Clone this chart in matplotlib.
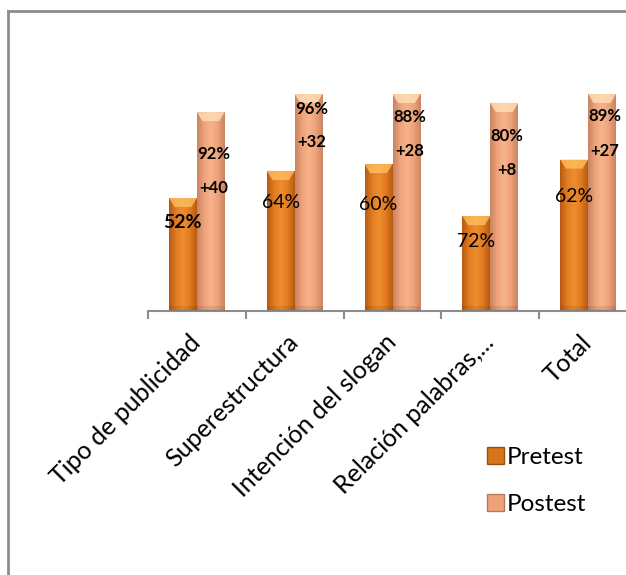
import numpy as np
import matplotlib
matplotlib.use("Agg")
from matplotlib import pyplot as plt
from matplotlib import patches as patches
from matplotlib.lines import Line2D
from matplotlib.colors import LinearSegmentedColormap
from matplotlib.transforms import ScaledTranslation

plt.rcParams['font.family'] = ['Lato', 'DejaVu Sans']

categories = ["Tipo de publicidad", "Superestructura", "Intención del slogan",
              "Relación palabras,...", "Total"]
pretest = [50, 62, 65, 42, 67]
postest = [88, 96, 96, 92, 96]
pretest_labels = ["52%", "64%", "60%", "72%", "62%"]
postest_labels = ["92%", "96%", "88%", "80%", "89%"]
gain_labels = ["+40", "+32", "+28", "+8", "+27"]

# label offsets in pixels below bar top
pre_dy = [-25, -32, -40, -25, -37]
post_dy = [-42, -15, -23, -33, -22]
gain_dy = [-76, -48, -57, -67, -57]

fig = plt.figure(figsize=(6.26, 5.75), dpi=100)
ax = fig.add_axes([148 / 626, 1 - 311 / 575, 489 / 626, 226 / 575])

x = np.arange(len(categories))
w = 0.285
pre_cmap = LinearSegmentedColormap.from_list(
    "pre", ["#b85a12", "#e27c20", "#ee8e30", "#e27c20", "#b85a12"])
post_cmap = LinearSegmentedColormap.from_list(
    "post", ["#c98561", "#eea27a", "#f6b48c", "#eea27a", "#c98561"])

grad = np.linspace(0, 1, 64).reshape(1, -1)


def shade(bars, cmap, bevel_color):
    for b in bars:
        x0, y0 = b.get_x(), b.get_y()
        bw, bh = b.get_width(), b.get_height()
        b.set_facecolor("none")
        im = ax.imshow(grad, cmap=cmap, aspect="auto",
                       extent=(x0, x0 + bw, y0, y0 + bh), zorder=2)
        im.set_clip_path(b)
        bev = 4.0
        ax.add_patch(patches.Polygon(
            [(x0, bh), (x0 + bw, bh), (x0 + bw * 0.8, bh - bev),
             (x0 + bw * 0.2, bh - bev)],
            closed=True, fc=bevel_color, ec="none", alpha=0.8, zorder=3))
        ax.add_patch(patches.Rectangle((x0, 0), bw, 2.0, fc="#000000",
                                       alpha=0.08, ec="none", zorder=3))


bars_pre = ax.bar(x - w / 2, pretest, w, ec="none", zorder=2)
bars_post = ax.bar(x + w / 2, postest, w, ec="none", zorder=2)
shade(bars_pre, pre_cmap, "#ffc060")
shade(bars_post, post_cmap, "#ffe0b8")

for i in range(len(categories)):
    ax.annotate(pretest_labels[i], (x[i] - w / 2, pretest[i]),
                xytext=(0, pre_dy[i]), textcoords="offset pixels",
                ha="center", va="center", fontsize=14,
                fontweight="bold" if i == 0 else "normal", zorder=5)
    ax.annotate(postest_labels[i], (x[i] + w / 2, postest[i]),
                xytext=(3, post_dy[i]), textcoords="offset pixels",
                ha="center", va="center", fontsize=12, fontweight="bold",
                zorder=5)
    ax.annotate(gain_labels[i], (x[i] + w / 2, postest[i]),
                xytext=(3, gain_dy[i]), textcoords="offset pixels",
                ha="center", va="center", fontsize=12, fontweight="bold",
                zorder=5)

ax.set_xlim(-0.5, len(categories) - 0.5)
ax.set_ylim(0, 100)
for s in ["top", "right", "left"]:
    ax.spines[s].set_visible(False)
ax.spines["bottom"].set_color("#8c8c8c")
ax.spines["bottom"].set_linewidth(1.5)
ax.set_yticks([])
ax.set_xticks(x)
ax.set_xticklabels(categories, rotation=45, ha="right", va="top",
                   rotation_mode="anchor", fontsize=18)
ax.tick_params(axis="x", which="major", length=0, pad=14)
ax.set_xticks(np.arange(-0.5, len(categories)), minor=True)
ax.tick_params(axis="x", which="minor", length=6, width=1.5, color="#8c8c8c")
shift = ScaledTranslation(-8 / 100, 0, fig.dpi_scale_trans)
for lbl in ax.get_xticklabels():
    lbl.set_transform(lbl.get_transform() + shift)

handles = [patches.Patch(fc="#d8741c", ec="#9a5010"),
           patches.Patch(fc="#eea27a", ec="#b8785a")]
fig.legend(handles, ["Pretest", "Postest"], loc="upper left",
           bbox_to_anchor=(487 / 626, 1 - 447 / 575), frameon=False,
           fontsize=17.5, handlelength=0.7, handleheight=0.7,
           handletextpad=0.12, labelspacing=1.05, borderpad=0, borderaxespad=0)

fig.add_artist(Line2D([8 / 626, 8 / 626], [0, 1 - 11 / 575],
                      color="#8c8c8c", lw=2, transform=fig.transFigure))
fig.add_artist(Line2D([8 / 626, 1], [1 - 11 / 575, 1 - 11 / 575],
                      color="#8c8c8c", lw=2, transform=fig.transFigure))

fig.savefig("out.png", dpi=100)
